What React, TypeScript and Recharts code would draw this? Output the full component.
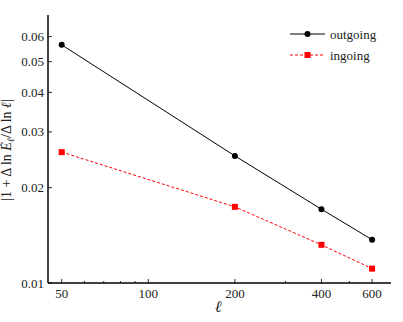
import React from "react";
import { LineChart, Line, XAxis, YAxis, Legend } from "recharts";

const ells = [50, 200, 400, 600];
const outgoing = [0.0565, 0.0252, 0.0171, 0.0137];
const ingoing = [0.0259, 0.0174, 0.0132, 0.0111];

const xMajor = [50, 100, 200, 400, 600];
const xMinor = [60, 70, 80, 90, 300, 500];
const yTicks = [0.01, 0.02, 0.03, 0.04, 0.05, 0.06];

const data = ells.map((l, i) => ({ l, outgoing: outgoing[i], ingoing: ingoing[i] }));

const FONT = "'Liberation Serif', serif";
const MARGIN = 6;

const BottomTick = (props: any) => {
  const { x, y, payload } = props;
  const axisY = y - MARGIN;
  const major = xMajor.includes(payload.value);
  return (
    <g>
      <line x1={x} x2={x} y1={axisY} y2={axisY - (major ? 4 : 2)} stroke="#000" strokeWidth={0.8} />
      {major && (
        <text x={x} y={axisY + 15} textAnchor="middle" fontFamily={FONT} fontSize={13} fill="#222">
          {payload.value}
        </text>
      )}
    </g>
  );
};

const TopTick = (props: any) => {
  const { x, y, payload } = props;
  const axisY = y + MARGIN;
  const major = xMajor.includes(payload.value);
  return <line x1={x} x2={x} y1={axisY} y2={axisY + (major ? 4 : 2)} stroke="#000" strokeWidth={0.8} />;
};

const LeftTick = (props: any) => {
  const { x, y, payload } = props;
  const axisX = x + MARGIN;
  return (
    <g>
      <line x1={axisX} x2={axisX + 4} y1={y} y2={y} stroke="#000" strokeWidth={0.8} />
      <text x={axisX - 4} y={y + 4.5} textAnchor="end" fontFamily={FONT} fontSize={13} fill="#222">
        {payload.value.toFixed(2)}
      </text>
    </g>
  );
};

const RightTick = (props: any) => {
  const { x, y } = props;
  const axisX = x - MARGIN;
  return <line x1={axisX} x2={axisX - 4} y1={y} y2={y} stroke="#000" strokeWidth={0.8} />;
};

const SquareDot = (props: any) => {
  const { cx, cy } = props;
  if (cx == null || cy == null) return null;
  return <rect x={cx - 3} y={cy - 3} width={6} height={6} fill="#ff0000" />;
};

const LegendBox = () => (
  <svg width={110} height={44}>
    <line x1={0} x2={35} y1={10} y2={10} stroke="#000" strokeWidth={1} />
    <circle cx={17.5} cy={10} r={3} fill="#000" />
    <text x={40} y={14.5} fontFamily={FONT} fontSize={13} fill="#222">outgoing</text>
    <line x1={0} x2={35} y1={31} y2={31} stroke="#ff0000" strokeWidth={1} strokeDasharray="3 2" />
    <rect x={14.5} y={28} width={6} height={6} fill="#ff0000" />
    <text x={40} y={35.5} fontFamily={FONT} fontSize={13} fill="#222">ingoing</text>
  </svg>
);

const App = () => {
  return (
    <div style={{ position: "absolute", left: 0, top: 0, width: 403, height: 322, background: "#fff" }}>
      <LineChart width={403} height={322} data={data} margin={{ top: 15, right: 12, left: 8, bottom: 9 }}>
        <XAxis
          xAxisId="b"
          dataKey="l"
          type="number"
          scale="log"
          domain={[44.8, 698]}
          allowDataOverflow
          ticks={[...xMajor, ...xMinor]}
          interval={0}
          tick={<BottomTick />}
          tickSize={0}
          tickMargin={MARGIN}
          height={30}
          axisLine={{ stroke: "#000", strokeWidth: 1.5 }}
          label={{
            content: () => (
              <text x={218} y={312} textAnchor="middle" fontFamily={FONT} fontStyle="italic" fontSize={16} fill="#222">
                ℓ
              </text>
            ),
          }}
        />
        <XAxis
          xAxisId="t"
          orientation="top"
          dataKey="l"
          type="number"
          scale="log"
          domain={[44.8, 698]}
          allowDataOverflow
          ticks={[...xMajor, ...xMinor]}
          interval={0}
          tick={<TopTick />}
          tickSize={0}
          tickMargin={MARGIN}
          height={0}
          axisLine={{ stroke: "#000", strokeWidth: 1.5 }}
        />
        <YAxis
          yAxisId="l"
          type="number"
          scale="log"
          domain={[0.01, 0.0702]}
          allowDataOverflow
          ticks={yTicks}
          interval={0}
          tick={<LeftTick />}
          tickSize={0}
          tickMargin={MARGIN}
          width={40}
          axisLine={{ stroke: "#000", strokeWidth: 1.5 }}
          label={{
            content: () => (
              <text
                transform="translate(11,150) rotate(-90)"
                textAnchor="middle"
                fontFamily={FONT}
                fontSize={14}
                fill="#222"
              >
                |1 + Δ ln <tspan fontStyle="italic">Ė</tspan>
                <tspan fontStyle="italic" fontSize={10} dy={3}>ℓ</tspan>
                <tspan dy={-3}>/Δ ln </tspan>
                <tspan fontStyle="italic">ℓ</tspan>|
              </text>
            ),
          }}
        />
        <YAxis
          yAxisId="r"
          orientation="right"
          type="number"
          scale="log"
          domain={[0.01, 0.0702]}
          allowDataOverflow
          ticks={yTicks}
          interval={0}
          tick={<RightTick />}
          tickSize={0}
          tickMargin={MARGIN}
          width={0}
          axisLine={{ stroke: "#000", strokeWidth: 1.5 }}
        />
        <Legend
          layout="horizontal"
          verticalAlign="middle"
          content={() => <LegendBox />}
          wrapperStyle={{ position: "absolute", top: 24, left: 290, width: 110 }}
        />
        <Line
          xAxisId="b"
          yAxisId="l"
          dataKey="outgoing"
          stroke="#000"
          strokeWidth={1}
          dot={{ r: 3, fill: "#000", stroke: "#000", strokeWidth: 0 }}
          activeDot={false}
          isAnimationActive={false}
        />
        <Line
          xAxisId="b"
          yAxisId="l"
          dataKey="ingoing"
          stroke="#ff0000"
          strokeWidth={1}
          strokeDasharray="3 2"
          dot={<SquareDot />}
          activeDot={false}
          isAnimationActive={false}
        />
      </LineChart>
    </div>
  );
};

export default App;
